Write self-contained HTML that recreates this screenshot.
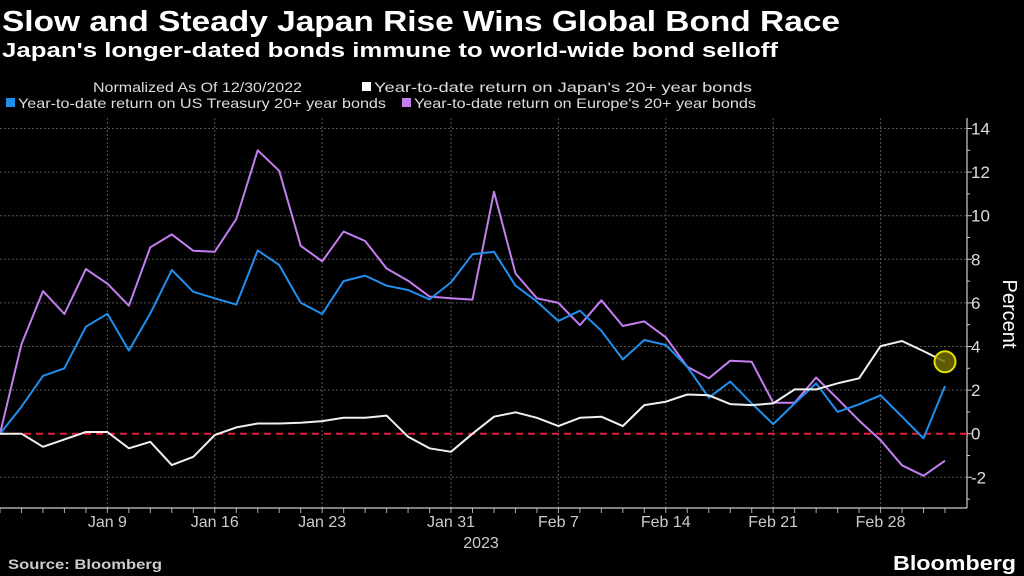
<!DOCTYPE html>
<html><head><meta charset="utf-8"><style>
html,body{margin:0;padding:0;background:#000;}
svg{display:block;font-family:"Liberation Sans",sans-serif;}
</style></head><body>
<svg id="chart" width="1024" height="576" viewBox="0 0 1024 576" xmlns="http://www.w3.org/2000/svg">
<rect width="1024" height="576" fill="#000"/>
<text x="2" y="31" fill="#fff" font-size="29" font-weight="bold" textLength="838" lengthAdjust="spacingAndGlyphs">Slow and Steady Japan Rise Wins Global Bond Race</text>
<text x="2" y="57" fill="#fff" font-size="20" font-weight="bold" textLength="776" lengthAdjust="spacingAndGlyphs">Japan's longer-dated bonds immune to world-wide bond selloff</text>
<g font-size="14" fill="#ddd">
<text x="93" y="92" textLength="209" lengthAdjust="spacingAndGlyphs">Normalized As Of 12/30/2022</text>
<rect x="362" y="82" width="9" height="9" fill="#fff"/>
<text x="374" y="92" textLength="378" lengthAdjust="spacingAndGlyphs">Year-to-date return on Japan's 20+ year bonds</text>
<rect x="6" y="98" width="9" height="9" fill="#1f8ff0"/>
<text x="18" y="108" textLength="368" lengthAdjust="spacingAndGlyphs">Year-to-date return on US Treasury 20+ year bonds</text>
<rect x="402" y="98" width="9" height="9" fill="#c47ef0"/>
<text x="414" y="108" textLength="342" lengthAdjust="spacingAndGlyphs">Year-to-date return on Europe's 20+ year bonds</text>
</g>
<g id="grid"></g>
<g id="axes"></g>
<g id="series"></g>
<text transform="translate(1003,314) rotate(90)" text-anchor="middle" fill="#fff" font-size="20">Percent</text>
<text x="481" y="548" text-anchor="middle" fill="#ccc" font-size="16">2023</text>
<text x="8" y="569" fill="#ccc" font-size="14" font-weight="bold" textLength="154" lengthAdjust="spacingAndGlyphs">Source: Bloomberg</text>
<text x="893" y="570" fill="#fff" font-size="20" font-weight="bold" textLength="123" lengthAdjust="spacingAndGlyphs">Bloomberg</text>
</svg>
<script>
const japan=[0,0,-0.6,-0.26,0.08,0.08,-0.67,-0.37,-1.44,-1.06,-0.06,0.29,0.47,0.47,0.5,0.58,0.73,0.73,0.83,-0.14,-0.67,-0.83,0,0.78,0.98,0.73,0.35,0.73,0.78,0.35,1.31,1.47,1.8,1.76,1.36,1.31,1.39,2.03,2.03,2.31,2.54,4.02,4.25,3.79,3.3];
const us=[0,1.24,2.65,3.0,4.91,5.5,3.81,5.52,7.51,6.51,6.21,5.92,8.41,7.74,6.01,5.49,7.0,7.25,6.79,6.59,6.16,6.94,8.23,8.35,6.79,6.06,5.17,5.64,4.72,3.41,4.3,4.07,3.07,1.65,2.39,1.39,0.44,1.39,2.31,1.0,1.35,1.76,0.78,-0.21,2.19];
const europe=[0,4.11,6.54,5.49,7.55,6.88,5.87,8.55,9.14,8.39,8.35,9.85,13.0,12.06,8.62,7.91,9.27,8.84,7.58,7.02,6.29,6.21,6.15,11.1,7.35,6.21,6.0,4.98,6.12,4.94,5.15,4.42,3.07,2.54,3.35,3.3,1.42,1.42,2.58,1.6,0.6,-0.3,-1.45,-1.93,-1.24];
const xTickIdx=[5,10,15,21,26,31,36,41];
const xTickLabels=["Jan 9","Jan 16","Jan 23","Jan 31","Feb 7","Feb 14","Feb 21","Feb 28"];
const yTicks=[-2,0,2,4,6,8,10,12,14];
const NS="http://www.w3.org/2000/svg";
const n=japan.length;
const X0=0,X1=945,AXX=967,AXB=508;
function xs(i){return X0+(X1-X0)*i/(n-1);}
function ys(v){return 433.7-21.8*v;}
function mk(tag,attrs,parent){const e=document.createElementNS(NS,tag);for(const k in attrs)e.setAttribute(k,attrs[k]);parent.appendChild(e);return e;}
const grid=document.getElementById('grid'),axes=document.getElementById('axes'),series=document.getElementById('series');
yTicks.forEach(v=>{
  if(v!==0){const g=mk('line',{x1:0,x2:AXX,y1:ys(v),y2:ys(v),stroke:'#555','stroke-width':1,'stroke-dasharray':'2,2'},grid);
  
  }
  const t=mk('line',{x1:AXX,x2:AXX+5,y1:ys(v),y2:ys(v),stroke:'#ccc','stroke-width':1},axes);
  
  
  const l=mk('text',{x:AXX+4,y:ys(v)+6,fill:'#ddd','font-size':17},axes);
  l.textContent=(v<0?'-'+Math.abs(v):String(v));
  
  
});
for(let v=-3;v<=13;v+=2){const t=mk('line',{x1:AXX,x2:AXX+3,y1:ys(v),y2:ys(v),stroke:'#ccc','stroke-width':1},axes);
  
  }
xTickIdx.forEach((idx,k)=>{
  const g=mk('line',{x1:xs(idx),x2:xs(idx),y1:118,y2:AXB,stroke:'#555','stroke-width':1,'stroke-dasharray':'2,2'},grid);
  
  
  const l=mk('text',{x:xs(idx),y:527,fill:'#ccc','font-size':16,'text-anchor':'middle'},axes);
  l.textContent=xTickLabels[k];
  
  
});
for(let i=0;i<n;i++){const t=mk('line',{x1:xs(i),x2:xs(i),y1:AXB,y2:AXB+5,stroke:'#aaa','stroke-width':1},axes);
  
  }
const ya=mk('line',{x1:AXX,x2:AXX,y1:118,y2:AXB,stroke:'#ccc','stroke-width':1.2},axes);


const xa=mk('line',{x1:0,x2:AXX,y1:AXB,y2:AXB,stroke:'#ccc','stroke-width':1.2},axes);


const zl=mk('line',{x1:0,x2:AXX,y1:ys(0),y2:ys(0),stroke:'#e0203c','stroke-width':2,'stroke-dasharray':'7,5'},series);


function line(arr,color,name){
  const p=mk('polyline',{points:arr.map((v,i)=>xs(i).toFixed(1)+','+ys(v).toFixed(1)).join(' '),fill:'none',stroke:color,'stroke-width':2,'stroke-linejoin':'round'},series);
  
  
}
line(europe,'#c47ef0','europe-line');
line(us,'#1f8ff0','us-line');
line(japan,'#f0f0f0','japan-line');
const c=mk('circle',{cx:xs(n-1),cy:ys(japan[n-1]),r:10.5,fill:'#6e6a00',stroke:'#e6e000','stroke-width':2,'fill-opacity':0.85},series);


</script>
</body></html>
